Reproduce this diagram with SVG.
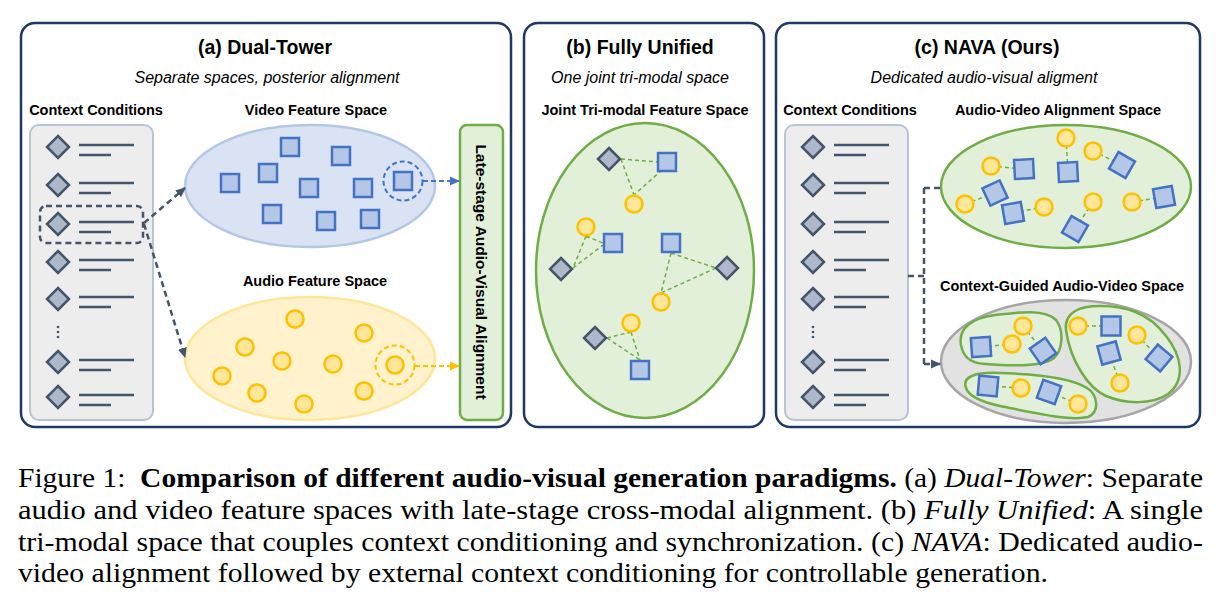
<svg xmlns="http://www.w3.org/2000/svg" xmlns:xlink="http://www.w3.org/1999/xlink" width="1225" height="609" viewBox="0 0 1225 609">
<style>
.panel{fill:#fff;stroke:#1f3864;stroke-width:2.5}
.ctx{fill:#ededed;stroke:#b7c3d6;stroke-width:2}
.dia{fill:#adb9ca;stroke:#44546a;stroke-width:2.5}
.ln{stroke:#44546a;stroke-width:2.5;fill:none}
.sq{fill:#b4c7e7;stroke:#4472c4;stroke-width:2.5}
.ci{fill:#ffe699;stroke:#ffc000;stroke-width:2.5}
.vel{fill:#dae3f3;stroke:#b4c7e7;stroke-width:2.5}
.ael{fill:#fff2cc;stroke:#ffe699;stroke-width:2.5}
.gel{fill:#e2f0d9;stroke:#70ad47;stroke-width:2.5}
.gry{fill:#e2e2e2;stroke:#a6a6a6;stroke-width:2.5}
.link{stroke:#70ad47;stroke-width:1.5;stroke-dasharray:4 3;fill:none}
.dk{stroke:#44546a;stroke-width:2.5;stroke-dasharray:6 4;fill:none}
.bl{stroke:#4472c4;stroke-width:2;stroke-dasharray:5 3;fill:none}
.or{stroke:#ffc000;stroke-width:2;stroke-dasharray:5 3;fill:none}
.t{font-family:"Liberation Sans",Arial,sans-serif;fill:#000;text-anchor:middle}
.h{font-weight:bold;font-size:19.5px}
.s{font-style:italic;font-size:16px}
.l{font-weight:bold;font-size:14.5px}
.cap{font-family:"Liberation Serif","Times New Roman",serif;font-size:27px;fill:#000}
</style>
<defs>
<polygon id="dm" class="dia" points="0,-11 11,0 0,11 -11,0"/>
<rect id="sq" class="sq" x="-9" y="-9" width="18" height="18"/>
<rect id="sq2" class="sq" x="-9.5" y="-9.5" width="19" height="19"/>
<circle id="ci" class="ci" r="8.5"/>
<g id="row"><use href="#dm"/><line class="ln" x1="21" y1="-2" x2="76" y2="-2"/><line class="ln" x1="21" y1="8" x2="53" y2="8"/></g>
<g id="vdots" fill="#44546a"><circle cx="0" cy="-5" r="1.3"/><circle cx="0" cy="0" r="1.3"/><circle cx="0" cy="5" r="1.3"/></g>
<marker id="ahd" markerWidth="10" markerHeight="10" refX="9" refY="5" orient="auto" markerUnits="userSpaceOnUse"><path d="M0,0.5 L10,5 L0,9.5 Z" fill="#44546a"/></marker>
<marker id="ahb" markerWidth="10" markerHeight="10" refX="9" refY="5" orient="auto" markerUnits="userSpaceOnUse"><path d="M0,0.5 L10,5 L0,9.5 Z" fill="#4472c4"/></marker>
<marker id="aho" markerWidth="10" markerHeight="10" refX="9" refY="5" orient="auto" markerUnits="userSpaceOnUse"><path d="M0,0.5 L10,5 L0,9.5 Z" fill="#ffc000"/></marker>
</defs>

<!-- Panel A -->
<g id="panel-a">
<rect class="panel" x="21" y="23" width="490" height="404" rx="14"/>
<text class="t h" x="265" y="54">(a) Dual-Tower</text>
<text class="t s" x="267" y="82.5">Separate spaces, posterior alignment</text>
<text class="t l" x="96" y="115">Context Conditions</text>
<text class="t l" x="316" y="115">Video Feature Space</text>
<text class="t l" x="315" y="286">Audio Feature Space</text>
</g>
<g id="ctx-a">
<rect class="ctx" x="30" y="125" width="123" height="295" rx="9"/>
<use href="#row" x="58" y="147"/>
<use href="#row" x="58" y="185"/>
<use href="#row" x="58" y="224"/>
<use href="#row" x="58" y="262"/>
<use href="#row" x="58" y="299"/>
<use href="#vdots" x="58" y="332"/>
<use href="#row" x="58" y="362"/>
<use href="#row" x="58" y="397"/>
<rect x="40" y="206" width="103" height="37" rx="6" class="dk"/>
</g>
<g id="video-space">
<ellipse class="vel" cx="310" cy="186" rx="125" ry="61"/>
<use href="#sq" x="290" y="147"/>
<use href="#sq" x="341" y="156"/>
<use href="#sq" x="230" y="183"/>
<use href="#sq" x="268" y="173"/>
<use href="#sq" x="309" y="188"/>
<use href="#sq" x="363" y="188"/>
<use href="#sq" x="272" y="214"/>
<use href="#sq" x="326" y="221"/>
<use href="#sq" x="370" y="219"/>
<use href="#sq" x="403" y="181"/>
<circle class="bl" cx="403" cy="181" r="19.5"/>
</g>
<g id="audio-space">
<ellipse class="ael" cx="310" cy="358.5" rx="125" ry="61.5"/>
<use href="#ci" x="295" y="319"/>
<use href="#ci" x="364" y="333"/>
<use href="#ci" x="245" y="347"/>
<use href="#ci" x="282" y="361"/>
<use href="#ci" x="333" y="364"/>
<use href="#ci" x="222" y="376"/>
<use href="#ci" x="257" y="393"/>
<use href="#ci" x="364" y="391"/>
<use href="#ci" x="304" y="404"/>
<use href="#ci" x="395" y="365"/>
<circle class="or" cx="395" cy="365" r="19.5"/>
</g>
<g id="late-align">
<rect x="460" y="125" width="43" height="295" rx="7" fill="#e2f0d9" stroke="#70ad47" stroke-width="2.5"/>
<text class="t" font-weight="bold" font-size="15.5" transform="translate(481,272) rotate(90)" dy="5.5">Late-stage Audio-Visual Alignment</text>
</g>

<!-- Panel B -->
<g id="panel-b">
<rect class="panel" x="524" y="23" width="240" height="404" rx="14"/>
<text class="t h" x="640" y="54">(b) Fully Unified</text>
<text class="t s" x="640" y="82.5">One joint tri-modal space</text>
<text class="t l" x="645" y="115">Joint Tri-modal Feature Space</text>
</g>
<g id="joint-space">
<ellipse class="gel" cx="645" cy="270.5" rx="109" ry="147.5"/>
<g class="link">
<path d="M621,159 L658,162 M621,159 L634,195 M662,170 L634,195"/>
<path d="M586,236 L603,243 M586,236 L573,268 M573,268 L603,245"/>
<path d="M671,253 L716,268 M671,253 L661,293 M716,268 L661,293"/>
<path d="M607,338 L631,332 M631,332 L640,360 M607,338 L640,360"/>
</g>
<use href="#dm" x="609" y="159"/>
<use href="#sq" x="667" y="162"/>
<use href="#ci" x="634" y="204"/>
<use href="#ci" x="586" y="227"/>
<use href="#sq" x="613" y="243"/>
<use href="#dm" x="561" y="269"/>
<use href="#sq" x="671" y="243"/>
<use href="#dm" x="727" y="268"/>
<use href="#ci" x="661" y="302"/>
<use href="#ci" x="631" y="323"/>
<use href="#dm" x="595" y="338"/>
<use href="#sq" x="640" y="370"/>
</g>

<!-- Panel C -->
<g id="panel-c">
<rect class="panel" x="776" y="23" width="424" height="404" rx="14"/>
<text class="t h" x="987" y="54">(c) NAVA (Ours)</text>
<text class="t s" x="984" y="82.5">Dedicated audio-visual aligment</text>
<text class="t l" x="850" y="115">Context Conditions</text>
<text class="t l" x="1058" y="115">Audio-Video Alignment Space</text>
<text class="t l" x="1062" y="291">Context-Guided Audio-Video Space</text>
</g>
<g id="ctx-c">
<rect class="ctx" x="785" y="125" width="123" height="295" rx="9"/>
<use href="#row" x="813" y="147"/>
<use href="#row" x="813" y="185"/>
<use href="#row" x="813" y="224"/>
<use href="#row" x="813" y="262"/>
<use href="#row" x="813" y="299"/>
<use href="#vdots" x="813" y="332"/>
<use href="#row" x="813" y="362"/>
<use href="#row" x="813" y="397"/>
</g>
<g id="av-space">
<ellipse class="gel" cx="1066" cy="186.5" rx="125" ry="61.5"/>
<g class="link">
<path d="M1066,138 L1068,172 M1093,151 L1122,165 M991,166 L1024,169 M995,193 L965,204 M1013,213 L1044,207 M1093,202 L1075,229 M1132,202 L1164,197"/>
</g>
<use href="#ci" x="1066" y="138"/>
<use href="#sq2" transform="translate(1068,172) rotate(-3)"/>
<use href="#ci" x="1093" y="151"/>
<use href="#sq2" transform="translate(1122,165) rotate(30)"/>
<use href="#ci" x="991" y="166"/>
<use href="#sq2" transform="translate(1024,169) rotate(-3)"/>
<use href="#sq2" transform="translate(995,193) rotate(-25)"/>
<use href="#ci" x="965" y="204"/>
<use href="#sq2" transform="translate(1013,213) rotate(-10)"/>
<use href="#ci" x="1044" y="207"/>
<use href="#ci" x="1093" y="202"/>
<use href="#sq2" transform="translate(1075,229) rotate(30)"/>
<use href="#ci" x="1132" y="202"/>
<use href="#sq2" transform="translate(1164,197) rotate(-10)"/>
</g>
<g id="guided-space">
<ellipse class="gry" cx="1066" cy="361.5" rx="125" ry="61.5"/>
<path class="gel" stroke-width="2" d="M961,345 C958,328 972,318 995,315 C1020,312 1045,309 1056,320 C1064,330 1063,350 1054,358 C1043,367 1010,366 985,364 C968,363 963,355 961,345 Z"/>
<path class="gel" stroke-width="2" d="M1066,330 C1064,312 1080,306 1100,306 C1125,306 1148,312 1166,336 C1182,356 1186,380 1168,394 C1152,405 1125,404 1106,396 C1088,388 1070,360 1066,330 Z"/>
<path class="gel" stroke-width="2" d="M966,388 C962,377 974,372 1000,373 C1035,374 1070,377 1087,388 C1098,395 1100,412 1088,417 C1070,421 1040,414 1000,406 C982,402 969,397 966,388 Z"/>
<g class="link">
<path d="M981,347 L1012,344 M1023,326 L1043,351 M1078,326 L1111,326 M1137,335 L1159,358 M1109,353 L1120,383 M988,386 L1021,388 M1049,392 L1078,404"/>
</g>
<use href="#ci" x="1023" y="326"/>
<use href="#ci" x="1012" y="344"/>
<use href="#sq2" transform="translate(981,347) rotate(-4)"/>
<use href="#sq2" transform="translate(1043,351) rotate(-35)"/>
<use href="#ci" x="1078" y="326"/>
<use href="#sq2" x="1111" y="326"/>
<use href="#ci" x="1137" y="335"/>
<use href="#sq2" transform="translate(1159,358) rotate(40)"/>
<use href="#sq2" transform="translate(1109,353) rotate(-15)"/>
<use href="#ci" x="1120" y="383"/>
<use href="#sq2" transform="translate(988,386) rotate(5)"/>
<use href="#ci" x="1021" y="388"/>
<use href="#sq2" transform="translate(1049,392) rotate(20)"/>
<use href="#ci" x="1078" y="404"/>
</g>

<!-- Connectors -->
<g id="connectors">
<path class="dk" d="M144,223 L185,188" marker-end="url(#ahd)"/>
<path class="dk" d="M144,224 L185,357" marker-end="url(#ahd)"/>
<path class="bl" d="M423,181 L459,181" marker-end="url(#ahb)"/>
<path class="or" d="M415,366 L459,366" marker-end="url(#aho)"/>
<path class="dk" d="M908,276 L924,276 M924,188 L941,188 M924,188 L924,364"/>
<path class="dk" d="M924,364 L940,364" marker-end="url(#ahd)"/>
</g>

<!-- Caption -->
<g id="caption" class="cap">
<text x="18" y="487" textLength="1185" lengthAdjust="spacingAndGlyphs">Figure 1:&#160; <tspan font-weight="bold">Comparison of different audio-visual generation paradigms.</tspan> (a) <tspan font-style="italic">Dual-Tower</tspan>: Separate</text>
<text x="18" y="519" textLength="1185" lengthAdjust="spacingAndGlyphs">audio and video feature spaces with late-stage cross-modal alignment. (b) <tspan font-style="italic">Fully Unified</tspan>: A single</text>
<text x="18" y="550.5" textLength="1185" lengthAdjust="spacingAndGlyphs">tri-modal space that couples context conditioning and synchronization. (c) <tspan font-style="italic">NAVA</tspan>: Dedicated audio-</text>
<text x="18" y="582" textLength="1030" lengthAdjust="spacingAndGlyphs">video alignment followed by external context conditioning for controllable generation.</text>
</g>
</svg>
